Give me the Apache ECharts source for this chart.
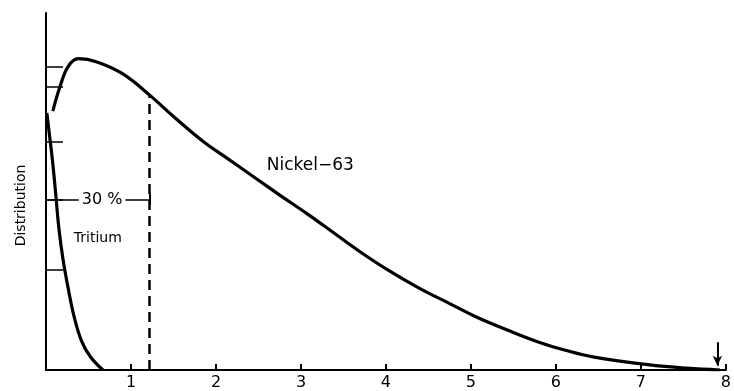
<!DOCTYPE html>
<html>
<head>
<meta charset="utf-8">
<script src="https://cdn.jsdelivr.net/npm/echarts@6/dist/echarts.min.js"></script>
<style>html,body{margin:0;padding:0;background:#fff}#c{width:734px;height:391px}</style>
</head>
<body>
<div id="c"></div>
<script>
// x tick labels (energy axis)
var xTicks = [1, 2, 3, 4, 5, 6, 7, 8];
// y-axis tick marks (unlabelled, irregular as drawn)
var yTicks = [28.1, 47.8, 63.9, 79.4, 85.0];
// Nickel-63 distribution
var niX = [0.08, 0.165, 0.26, 0.38, 0.6, 0.9, 1.22, 1.5, 1.85, 2.15, 2.45, 2.75, 3.07, 3.38, 3.69, 4.05, 4.4, 4.75, 5.05, 5.45, 5.8, 6.1, 6.45, 7.08, 7.54, 7.93];
var niY = [72.5, 79.4, 85.0, 87.2, 86.3, 83.0, 77.0, 71.0, 64.0, 59.0, 54.0, 49.0, 43.8, 38.5, 33.2, 27.6, 22.8, 18.6, 15.0, 11.0, 7.8, 5.6, 3.6, 1.5, 0.5, 0];
// Tritium distribution
var triX = [0.01, 0.04, 0.07, 0.1, 0.12, 0.15, 0.2, 0.26, 0.33, 0.42, 0.52, 0.67];
var triY = [72.0, 66.0, 60.0, 53.0, 47.8, 40.0, 31.0, 23.0, 15.0, 8.0, 3.8, 0];
// annotations
var dashedX = 1.22, dashedTop = 77.0;
var pctY = 47.8, pctLabel = '30 %';
var arrowX = 7.9, arrowFrom = 7.8, arrowTo = 1.2;
var labels = [
  { text: 'Nickel\u221263', x: 3.11, y: 57.2, size: 17 },
  { text: 'Tritium', x: 0.61, y: 36.9, size: 14 },
  { text: pctLabel, x: 0.66, y: pctY, size: 16 }
];

function pairs(xs, ys) { return xs.map(function (x, i) { return [x, ys[i]]; }); }
var FONT = 'DejaVu Sans';

var chart = echarts.init(document.getElementById('c'));
chart.setOption({
  animation: false,
  grid: { left: 46, right: 8, top: 13, bottom: 18 },
  xAxis: {
    type: 'value', min: 0, max: 8, interval: 1,
    axisLine: { show: true, lineStyle: { color: '#000', width: 2 } },
    axisTick: { show: true, inside: true, length: 6, lineStyle: { color: '#000', width: 2 }, customValues: xTicks },
    axisLabel: { show: true, customValues: xTicks, margin: 5, fontSize: 16, fontFamily: FONT, color: '#000' },
    splitLine: { show: false }
  },
  yAxis: {
    type: 'value', min: 0, max: 100,
    name: 'Distribution', nameLocation: 'middle', nameGap: 18, nameRotate: 90,
    nameTextStyle: { fontSize: 14, fontFamily: FONT, color: '#000', padding: [0, 0, 0, -28] },
    axisLine: { show: true, lineStyle: { color: '#000', width: 2 } },
    axisTick: { show: true, inside: true, length: 17, lineStyle: { color: '#000', width: 1.5 }, customValues: yTicks },
    axisLabel: { show: false },
    splitLine: { show: false }
  },
  series: [
    {
      type: 'line', data: pairs(niX, niY), smooth: 0.4, symbol: 'none',
      lineStyle: { color: '#000', width: 3.2 },
      markLine: {
        silent: true, symbol: ['none', 'none'], animation: false,
        data: [
          [{ coord: [dashedX, 0], lineStyle: { type: [10, 6], width: 2.5, color: '#000' }, label: { show: false } },
           { coord: [dashedX, dashedTop] }],
          [{ coord: [0, pctY], lineStyle: { type: 'solid', width: 1.5, color: '#000' }, label: { show: false } },
           { coord: [dashedX, pctY] }],
          [{ coord: [dashedX, pctY - 1.6], lineStyle: { type: 'solid', width: 2, color: '#000' }, label: { show: false } },
           { coord: [dashedX, pctY + 1.6] }],
          [{ coord: [arrowX, arrowFrom], symbol: 'none', lineStyle: { type: 'solid', width: 2, color: '#000' }, label: { show: false } },
           { coord: [arrowX, arrowTo], symbol: 'arrow', symbolSize: [7, 10] }]
        ]
      },
      markPoint: {
        symbol: 'rect', symbolSize: 1, silent: true, itemStyle: { color: 'rgba(0,0,0,0)' },
        data: labels.map(function (l) {
          return {
            coord: [l.x, l.y],
            label: {
              show: true, position: 'inside', formatter: l.text, fontSize: l.size, fontFamily: FONT, color: '#000',
              backgroundColor: l.text === pctLabel ? '#fff' : 'transparent', padding: [0, 3]
            }
          };
        })
      }
    },
    {
      type: 'line', data: pairs(triX, triY), smooth: 0.4, symbol: 'none',
      lineStyle: { color: '#000', width: 3.2 }
    }
  ]
});
</script>
</body>
</html>
